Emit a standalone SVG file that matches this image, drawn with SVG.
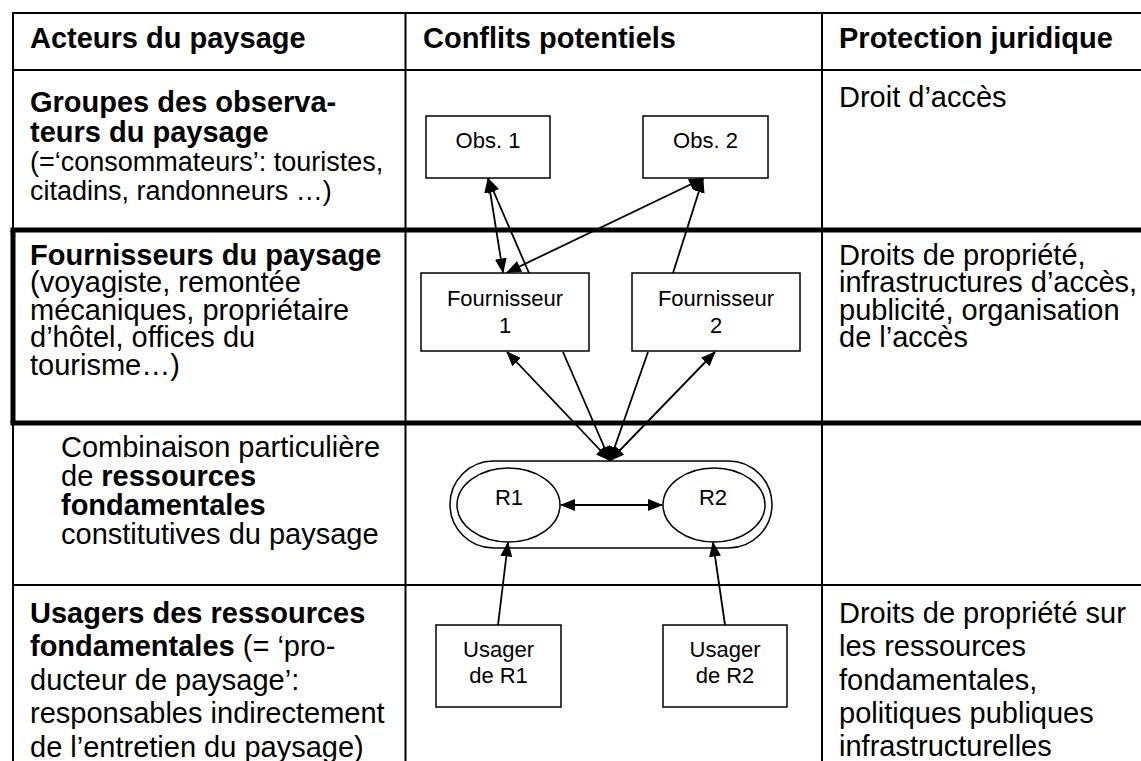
<svg xmlns="http://www.w3.org/2000/svg" width="1141" height="761" viewBox="0 0 1141 761">
<style>
.t{font-family:'Liberation Sans',Arial,Helvetica,sans-serif;font-size:29px;fill:#000}
.s{font-size:27px}
.b{font-weight:bold}
.n{font-family:'Liberation Sans',Arial,Helvetica,sans-serif;font-size:22px;fill:#000;text-anchor:middle}
.grid{stroke:#000;stroke-width:2;fill:none}
.thick{stroke:#000;stroke-width:5;fill:none}
.box{fill:#fff;stroke:#000;stroke-width:1.5}
.conn{stroke:#000;stroke-width:1.8;fill:none}
.h{marker-end:url(#ah)}
.hh{marker-end:url(#ah);marker-start:url(#ah)}
</style>
<defs>
<marker id="ah" markerUnits="userSpaceOnUse" markerWidth="15" markerHeight="12" refX="14" refY="6" orient="auto-start-reverse">
<path d="M0,0 L15,6 L0,12 z" fill="#000"/>
</marker>
</defs>
<rect width="1141" height="761" fill="#fff"/>
<g id="table">
<line class="grid" x1="13" y1="13" x2="1141" y2="13"/>
<line class="grid" x1="13" y1="12" x2="13" y2="761"/>
<line class="grid" x1="405.5" y1="12" x2="405.5" y2="761"/>
<line class="grid" x1="822" y1="12" x2="822" y2="761"/>
<line class="grid" x1="13" y1="70" x2="1141" y2="70"/>
<line class="grid" x1="13" y1="585" x2="1141" y2="585"/>
<line class="thick" x1="10.5" y1="230" x2="1141" y2="230"/>
<line class="thick" x1="10.5" y1="423" x2="1141" y2="423"/>
<line class="thick" x1="13" y1="230" x2="13" y2="423"/>
</g>
<g id="headers">
<text class="t b" x="30" y="48">Acteurs du paysage</text>
<text class="t b" x="423" y="48">Conflits potentiels</text>
<text class="t b" x="839" y="48">Protection juridique</text>
</g>
<g id="row-observateurs">
<text class="t b" x="30" y="112">Groupes des observa-</text>
<text class="t b" x="30" y="142">teurs du paysage</text>
<text class="t s" x="30" y="171">(=‘consommateurs’: touristes,</text>
<text class="t s" x="30" y="199.5">citadins, randonneurs …)</text>
<text class="t" x="839" y="107">Droit d’accès</text>
</g>
<g id="row-fournisseurs">
<text class="t b" x="30" y="264.5">Fournisseurs du paysage</text>
<text class="t" x="30" y="292">(voyagiste, remontée</text>
<text class="t" x="30" y="319.5">mécaniques, propriétaire</text>
<text class="t" x="30" y="347">d’hôtel, offices du</text>
<text class="t" x="30" y="374.5">tourisme…)</text>
<text class="t" x="839" y="264.5">Droits de propriété,</text>
<text class="t" x="839" y="292">infrastructures d’accès,</text>
<text class="t" x="839" y="319.5">publicité, organisation</text>
<text class="t" x="839" y="347">de l’accès</text>
</g>
<g id="row-ressources">
<text class="t" x="61" y="457">Combinaison particulière</text>
<text class="t" x="61" y="486">de <tspan class="b">ressources</tspan></text>
<text class="t b" x="61" y="515">fondamentales</text>
<text class="t" x="61" y="544">constitutives du paysage</text>
</g>
<g id="row-usagers">
<text class="t b" x="30" y="622.5">Usagers des ressources</text>
<text class="t" x="30" y="656"><tspan class="b">fondamentales</tspan> (= ‘pro-</text>
<text class="t" x="30" y="689.5">ducteur de paysage’:</text>
<text class="t" x="30" y="723">responsables indirectement</text>
<text class="t" x="30" y="756.5">de l’entretien du paysage)</text>
<text class="t" x="839" y="622.5">Droits de propriété sur</text>
<text class="t" x="839" y="656">les ressources</text>
<text class="t" x="839" y="689.5">fondamentales,</text>
<text class="t" x="839" y="723">politiques publiques</text>
<text class="t" x="839" y="755.5">infrastructurelles</text>
</g>
<g id="obs1"><rect class="box" x="426" y="116" width="124" height="62"/><text class="n" x="488" y="148">Obs. 1</text></g>
<g id="obs2"><rect class="box" x="643" y="116" width="125" height="62"/><text class="n" x="705.5" y="148">Obs. 2</text></g>
<g id="fournisseur1"><rect class="box" x="421" y="273" width="168" height="78"/><text class="n" x="505" y="306">Fournisseur</text><text class="n" x="505" y="333">1</text></g>
<g id="fournisseur2"><rect class="box" x="632" y="273" width="168" height="78"/><text class="n" x="716" y="306">Fournisseur</text><text class="n" x="716" y="333">2</text></g>
<g id="ressources"><rect class="box" x="450" y="461" width="322" height="87" rx="43.5" ry="43.5"/></g>
<g id="r1"><ellipse class="box" cx="508.5" cy="505" rx="51.5" ry="37"/><text class="n" x="509" y="505">R1</text></g>
<g id="r2"><ellipse class="box" cx="714" cy="505" rx="51" ry="37"/><text class="n" x="713" y="505">R2</text></g>
<g id="usager1"><rect class="box" x="436" y="625" width="125" height="82"/><text class="n" x="498.5" y="657">Usager</text><text class="n" x="498.5" y="683">de R1</text></g>
<g id="usager2"><rect class="box" x="663" y="625" width="124" height="82"/><text class="n" x="725" y="657">Usager</text><text class="n" x="725" y="683">de R2</text></g>
<g id="connectors">
<line class="conn hh" x1="488" y1="178.5" x2="503" y2="272.5"/>
<line class="conn h" x1="529" y1="273" x2="488" y2="178.5"/>
<line class="conn hh" x1="703" y1="178.5" x2="507" y2="272.5"/>
<line class="conn h" x1="673" y1="273" x2="703" y2="178.5"/>
<line class="conn hh" x1="507" y1="352" x2="610" y2="460.5"/>
<line class="conn h" x1="563" y1="352" x2="610" y2="460.5"/>
<line class="conn h" x1="648" y1="352" x2="610" y2="460.5"/>
<line class="conn hh" x1="715" y1="352" x2="610" y2="460.5"/>
<line class="conn hh" x1="561" y1="505" x2="662" y2="505"/>
<line class="conn h" x1="498" y1="625" x2="508" y2="542.5"/>
<line class="conn h" x1="725" y1="625" x2="713" y2="542.5"/>
</g>
</svg>
